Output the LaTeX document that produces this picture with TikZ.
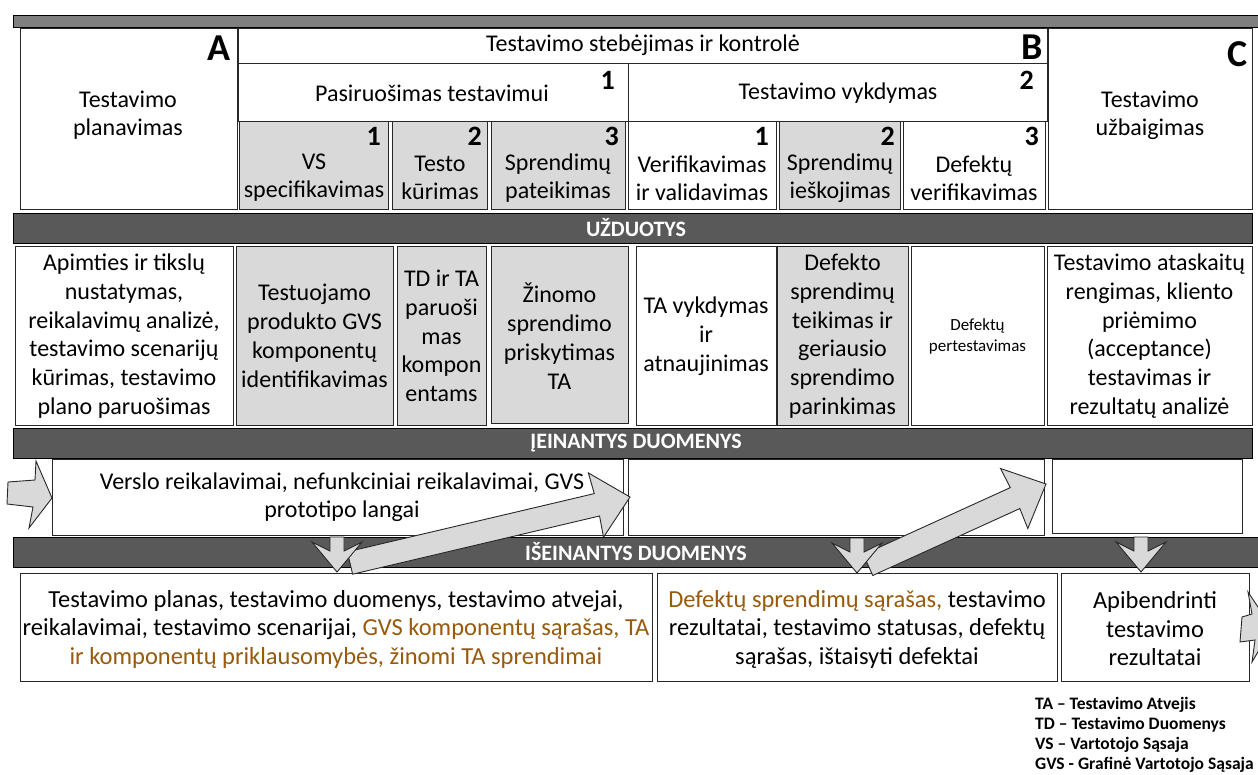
\documentclass[tikz,border=0pt]{standalone}
\usepackage{fontspec}
\setmainfont{Carlito}
\usetikzlibrary{calc}
\definecolor{lgray}{RGB}{217,217,217}
\definecolor{dgray}{RGB}{89,89,89}
\definecolor{mgray}{RGB}{127,127,127}
\definecolor{brn}{RGB}{152,90,12}
\definecolor{edge}{RGB}{40,40,40}
\tikzset{
 wbox/.style={draw=edge, line width=0.9pt, fill=white, inner sep=0pt, outer sep=0pt},
 gbox/.style={wbox, fill=lgray},
 bar/.style={draw=black, line width=0.9pt, fill=dgray, inner sep=0pt, outer sep=0pt},
 topbar/.style={bar, fill=mgray},
 txt/.style={align=center, inner sep=0pt, font=\fontsize{24}{28}\selectfont},
 otxt/.style={align=center, inner sep=0pt, font=\fontsize{24.5}{28.5}\selectfont},
 ttxt/.style={align=center, inner sep=0pt, font=\fontsize{24}{28.8}\selectfont},
 stxt/.style={align=center, inner sep=0pt, font=\fontsize{17}{21}\selectfont},
 num/.style={anchor=north east, inner sep=0pt, font=\bfseries\fontsize{28}{28}\selectfont},
 bigl/.style={anchor=north east, inner sep=0pt, font=\bfseries\fontsize{38}{38}\selectfont},
 bartxt/.style={text=white, inner sep=0pt, font=\bfseries\fontsize{22}{22}\selectfont},
 blk/.style={fill=lgray, draw=edge, line width=0.9pt, line join=miter},
 legend/.style={align=left, anchor=north west, inner sep=0pt, font=\bfseries\fontsize{17.5}{20}\selectfont},
}
% #1 name, #2 style, #3 x1, #4 y1, #5 x2, #6 y2
\newcommand\rbox[6]{\node[#2, anchor=north west, minimum width={(#5-#3)*1pt}, minimum height={(#6-#4)*1pt}] (#1) at (#3,#4) {};}
% block arrow: #1 id, #2 from, #3 to, #4 shaft half width, #5 head half width, #6 head length, #7 barb distance from tip
\newcommand\barrow[7]{%
 \coordinate (#1-hb) at ($(#3)!#6!(#2)$);
 \coordinate (#1-bb) at ($(#3)!#7!(#2)$);
 \filldraw[blk] ($(#2)!#4!90:(#3)$) -- ($(#1-hb)!#4!90:(#3)$) -- ($(#1-bb)!#5!90:(#3)$) -- (#3)
   -- ($(#1-bb)!#5!-90:(#3)$) -- ($(#1-hb)!#4!-90:(#3)$) -- ($(#2)!#4!-90:(#3)$) -- cycle;}
\begin{document}
\begin{tikzpicture}[x=1pt,y=-1pt]
\useasboundingbox (0,0) rectangle (1258,774);
% top bar
\rbox{topbar}{topbar}{13}{15}{1265}{27}
% phase A
\rbox{A}{wbox}{20}{28}{237}{209}
\node[bigl] (Alab) at (231,36) {A};
\node[txt] (Atxt) at (128,115) {Testavimo\\planavimas};
% phase B
\rbox{B}{wbox}{238}{28}{1047}{63}
\node[txt] (Btxt) at (643,45) {Testavimo stebėjimas ir kontrolė};
\node[bigl] (Blab) at (1043,35) {B};
\rbox{B1}{wbox}{238}{63}{628}{121}
\node[txt] (B1t) at (432,93) {Pasiruošimas testavimui};
\node[num] (B1n) at (615,71) {1};
\rbox{B2}{wbox}{628}{63}{1047}{121}
\node[txt] (B2t) at (838,93) {Testavimo vykdymas};
\node[num] (B2n) at (1034,71) {2};
% sub steps
\rbox{s11}{gbox}{239}{121}{388}{209}
\node[num] (s11n) at (381,127) {1};
\node[txt] (s11t) at (314,178) {VS\\specifikavimas};
\rbox{s12}{gbox}{392}{121}{487}{209}
\node[num] (s12n) at (482,127) {2};
\node[txt] (s12t) at (440,178) {Testo\\kūrimas};
\rbox{s13}{gbox}{491}{121}{625}{209}
\node[num] (s13n) at (619,127) {3};
\node[txt] (s13t) at (558,178) {Sprendimų\\pateikimas};
\rbox{s21}{wbox}{628}{121}{776}{209}
\node[num] (s21n) at (769,127) {1};
\node[txt] (s21t) at (702,178) {Verifikavimas\\ir validavimas};
\rbox{s22}{gbox}{779}{121}{900}{209}
\node[num] (s22n) at (895,127) {2};
\node[txt] (s22t) at (840,178) {Sprendimų\\ieškojimas};
\rbox{s23}{wbox}{903}{121}{1045}{209}
\node[num] (s23n) at (1039,127) {3};
\node[txt] (s23t) at (974,178) {Defektų\\verifikavimas};
% phase C
\rbox{C}{wbox}{1048}{28}{1252}{209}
\node[bigl] (Clab) at (1248,41) {C};
\node[txt] (Ctxt) at (1150,115) {Testavimo\\užbaigimas};
% tasks bar
\rbox{bar1}{bar}{13}{213}{1252}{243}
\node[bartxt] (bar1t) at (636,228) {UŽDUOTYS};
% tasks
\rbox{t1}{wbox}{15}{246}{233}{425}
\node[ttxt] (t1t) at (124,336) {Apimties ir tikslų\\nustatymas,\\reikalavimų analizė,\\testavimo scenarijų\\kūrimas, testavimo\\plano paruošimas};
\rbox{t2}{gbox}{236}{246}{393}{425}
\node[ttxt] (t2t) at (314.5,336) {Testuojamo\\produkto GVS\\komponentų\\identifikavimas};
\rbox{t3}{gbox}{397}{246}{486}{425}
\node[ttxt] (t3t) at (441.5,336) {TD ir TA\\paruoši\\mas\\kompon\\entams};
\rbox{t4}{gbox}{491}{246}{628}{423}
\node[ttxt] (t4t) at (559.5,336) {Žinomo\\sprendimo\\priskytimas\\TA};
\rbox{t5}{wbox}{636}{246}{776}{425}
\node[ttxt] (t5t) at (706,336) {TA vykdymas\\ir\\atnaujinimas};
\rbox{t6}{gbox}{777}{246}{908}{425}
\node[ttxt] (t6t) at (842.5,336) {Defekto\\sprendimų\\teikimas ir\\geriausio\\sprendimo\\parinkimas};
\rbox{t7}{wbox}{911}{246}{1044}{425}
\node[stxt] (t7t) at (977.5,336) {Defektų\\pertestavimas};
\rbox{t8}{wbox}{1047}{246}{1252}{425}
\node[ttxt] (t8t) at (1149.5,336) {Testavimo ataskaitų\\rengimas, kliento\\priėmimo\\(acceptance)\\testavimas ir\\rezultatų analizė};
% inputs bar
\rbox{bar2}{bar}{13}{428}{1252}{458}
\node[bartxt] (bar2t) at (636,443) {ĮEINANTYS DUOMENYS};
% inputs
\rbox{i1}{wbox}{52}{459}{623}{535}
\node[txt] (i1t) at (342,497) {Verslo reikalavimai, nefunkciniai reikalavimai, GVS\\prototipo langai};
\rbox{i2}{wbox}{628}{459}{1044}{535}
\rbox{i3}{wbox}{1052}{459}{1242}{533}
% outputs bar
\rbox{bar3}{bar}{13}{537}{1265}{567}
\node[bartxt] (bar3t) at (636,552) {IŠEINANTYS DUOMENYS};
% outputs
\rbox{o1}{wbox}{20}{573}{652}{681}
\node[otxt] (o1t) at (336,629) {Testavimo planas, testavimo duomenys, testavimo atvejai,\\reikalavimai, testavimo scenarijai, \textcolor{brn}{GVS komponentų sąrašas, TA}\\\textcolor{brn}{ir komponentų priklausomybės, žinomi TA sprendimai}};
\rbox{o2}{wbox}{657}{573}{1057}{681}
\node[otxt] (o2t) at (857,629) {\textcolor{brn}{Defektų sprendimų sąrašas,} testavimo\\rezultatai, testavimo statusas, defektų\\sąrašas, ištaisyti defektai};
\rbox{o3}{wbox}{1061}{573}{1249}{681}
\node[otxt] (o3t) at (1155,629) {Apibendrinti\\testavimo\\rezultatai};
% side arrows
\filldraw[blk] (8,482) -- (35,480) -- (36,461) -- (52,498) -- (29,528) -- (33,507) -- (7,504) -- cycle;
\filldraw[blk] (1240,642) -- (1242,617) -- (1252,614) -- (1248,592) -- (1272,628) -- (1252,662) -- (1255,640) -- cycle;
% diagonal arrows (outputs feed next phase inputs)
\coordinate (a1s) at (350,563); \coordinate (a1e) at (630,497);
\barrow{a1}{a1s}{a1e}{11.5pt}{33pt}{34pt}{35pt}
\coordinate (a2s) at (868,565); \coordinate (a2e) at (1046,484);
\barrow{a2}{a2s}{a2e}{11.5pt}{33pt}{34pt}{35pt}
% down arrows
\coordinate (d1s) at (337,537); \coordinate (d1e) at (337,572);
\barrow{d1}{d1s}{d1e}{7pt}{25pt}{21pt}{30pt}
\coordinate (d2s) at (857,538); \coordinate (d2e) at (857,573);
\barrow{d2}{d2s}{d2e}{7pt}{25pt}{21pt}{30pt}
\coordinate (d3s) at (1141,537); \coordinate (d3e) at (1141,572);
\barrow{d3}{d3s}{d3e}{7pt}{25pt}{21pt}{30pt}
% legend
\node[legend] (leg) at (1035,697) {TA – Testavimo Atvejis\\TD – Testavimo Duomenys\\VS – Vartotojo Sąsaja\\GVS - Grafinė Vartotojo Sąsaja};
\end{tikzpicture}
\end{document}
